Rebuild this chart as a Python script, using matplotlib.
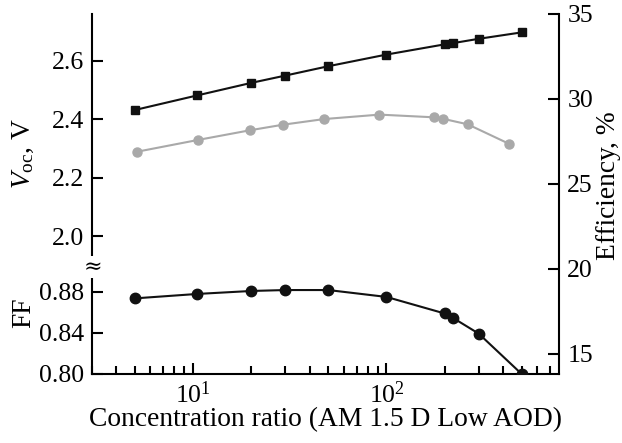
import matplotlib
matplotlib.use('Agg')
import matplotlib.pyplot as plt
from matplotlib.ticker import LogLocator, NullFormatter

plt.rcParams['font.family'] = ['Liberation Serif', 'DejaVu Serif']
plt.rcParams['mathtext.fontset'] = 'custom'
plt.rcParams['mathtext.rm'] = 'Liberation Serif'
plt.rcParams['mathtext.it'] = 'Liberation Serif:italic'

# Concentration ratios (suns)
conc = [5, 10.5, 20, 30, 50, 100, 200, 220, 300, 500]
conc_eff = [5.15, 10.6, 19.7, 29.3, 47.7, 92, 177, 195, 263, 429]

# Open-circuit voltage, V
voc = [2.432, 2.482, 2.525, 2.550, 2.582, 2.622, 2.657, 2.661, 2.676, 2.698]
# Fill factor
ff = [0.8735, 0.8778, 0.8807, 0.8816, 0.8816, 0.8749, 0.8588, 0.8547, 0.8392, 0.800]
# Efficiency, %
eff = [26.9, 27.59, 28.16, 28.49, 28.82, 29.08, 28.92, 28.84, 28.51, 27.37]

FS = 19.8
TICK_FS = 18.5

fig = plt.figure(figsize=(6.22, 4.43), dpi=100)
x0, w = 0.1479, 0.7508
ax_eff = fig.add_axes([x0, 0.1558, w, 0.8126])
ax_voc = fig.add_axes([x0, 0.3973, w, 0.5711], sharex=ax_eff)
ax_ff = fig.add_axes([x0, 0.1558, w, 0.2415], sharex=ax_eff)
for ax in (ax_eff, ax_voc, ax_ff):
    ax.patch.set_visible(False)
    for s in ax.spines.values():
        s.set_visible(False)
        s.set_linewidth(1.5)

ax_eff.set_xscale('log')
ax_eff.set_xlim(3, 780)

# efficiency on the right axis
ax_eff.plot(conc_eff, eff, color='#a9a9a9', lw=1.5, marker='o', ms=6.5,
            zorder=2)
ax_eff.set_ylim(13.82, 35)
ax_eff.set_yticks([15, 20, 25, 30, 35])
ax_eff.yaxis.tick_right()
ax_eff.spines['right'].set_visible(True)
ax_eff.tick_params(axis='y', direction='in', length=8, width=1.5,
                   labelsize=TICK_FS, pad=6)
ax_eff.tick_params(axis='x', which='both', bottom=False, labelbottom=False)
ax_eff.set_ylabel('Efficiency, %', fontsize=FS, rotation=90)
ax_eff.yaxis.set_label_position('right')
ax_eff.yaxis.set_label_coords(1.079, 0.522)

# open-circuit voltage, upper left
ax_voc.plot(conc, voc, color='#111111', lw=1.5, marker='s', ms=6, zorder=3)
ax_voc.set_ylim(1.894, 2.761)
ax_voc.set_yticks([2.0, 2.2, 2.4, 2.6])
ax_voc.spines['left'].set_visible(True)
ax_voc.tick_params(axis='y', direction='in', length=8, width=1.5,
                   labelsize=TICK_FS, pad=6)
ax_voc.tick_params(axis='x', which='both', bottom=False, labelbottom=False)
ax_voc.set_ylabel(r'$V_{\mathrm{oc}}$, V', fontsize=FS)
ax_voc.yaxis.set_label_coords(-0.12, 0.45)

# fill factor, lower left
ax_ff.plot(conc, ff, color='#111111', lw=1.5, marker='o', ms=7.5, zorder=3)
ax_ff.set_ylim(0.80, 0.904)
ax_ff.set_yticks([0.80, 0.84, 0.88])
ax_ff.spines['left'].set_visible(True)
ax_ff.spines['bottom'].set_visible(True)
ax_ff.tick_params(axis='y', direction='in', length=8, width=1.5,
                  labelsize=TICK_FS, pad=6)
ax_ff.xaxis.set_major_locator(LogLocator(base=10))
ax_ff.xaxis.set_minor_locator(LogLocator(base=10, subs=range(2, 10)))
ax_ff.xaxis.set_minor_formatter(NullFormatter())
ax_ff.tick_params(axis='x', which='major', direction='in', length=8,
                  width=1.5, labelsize=TICK_FS, pad=5)
ax_ff.tick_params(axis='x', which='minor', direction='in', length=6,
                  width=1.5)
ax_ff.set_ylabel('FF', fontsize=FS)
ax_ff.yaxis.set_label_coords(-0.12, 0.57)
ax_ff.set_xlabel('Concentration ratio (AM 1.5 D Low AOD)', fontsize=FS,
                 labelpad=0)

# axis break mark on the left spine
fig.text(x0 + 0.002, 0.3973, '≈', fontsize=16, ha='center', va='center',
         family='DejaVu Serif',
         bbox=dict(facecolor='white', edgecolor='none', pad=0))

fig.savefig('out.png', dpi=100)
